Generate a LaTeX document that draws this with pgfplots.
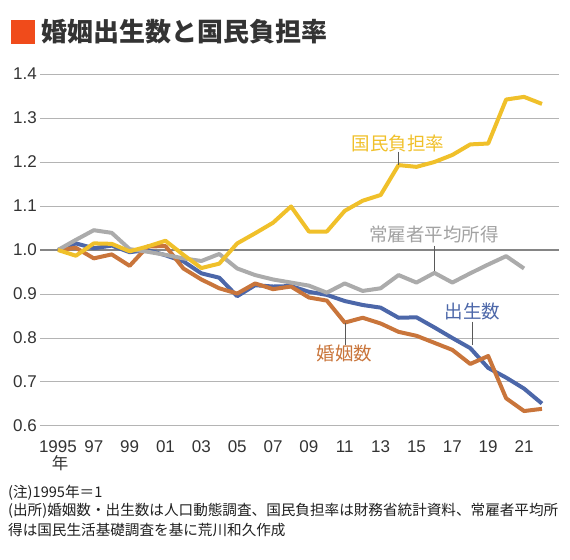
\documentclass[border=0pt]{standalone}
\usepackage{fontspec}
\setmainfont{Liberation Sans}
\newfontfamily\cjk{Noto Sans CJK JP}
\usepackage{pgfplots}
\pgfplotsset{compat=1.18}

\definecolor{cYel}{HTML}{F0C02A}
\definecolor{cGray}{HTML}{ABABAB}
\definecolor{cBlue}{HTML}{4C67A9}
\definecolor{cOrg}{HTML}{C9753B}
\definecolor{cTitle}{HTML}{F04B1B}
\definecolor{cText}{HTML}{333333}
\definecolor{cGrid}{HTML}{B4B4B4}
\definecolor{cGridDk}{HTML}{858585}

% 1995 = 1
\pgfplotstableread{
year  birth  marr   burden
1995  1.000  1.000  1.000
1996  1.015  1.005  0.987
1997  1.004  0.981  1.015
1998  1.010  0.990  1.014
1999  0.995  0.964  0.997
2000  1.000  1.008  1.008
2001  0.988  1.009  1.021
2002  0.974  0.958  0.989
2003  0.947  0.933  0.959
2004  0.937  0.913  0.969
2005  0.895  0.901  1.015
2006  0.920  0.924  1.038
2007  0.917  0.911  1.062
2008  0.918  0.917  1.099
2009  0.905  0.892  1.042
2010  0.898  0.885  1.042
2011  0.884  0.835  1.089
2012  0.875  0.846  1.112
2013  0.869  0.833  1.125
2014  0.846  0.814  1.193
2015  0.847  0.805  1.189
2016  0.824  0.789  1.200
2017  0.800  0.773  1.216
2018  0.777  0.741  1.240
2019  0.732  0.759  1.242
2020  0.710  0.663  1.342
2021  0.685  0.634  1.348
2022  0.651  0.639  1.332
}\main

\pgfplotstableread{
year  income
1995  1.000
1996  1.023
1997  1.045
1998  1.039
1999  1.002
2000  0.996
2001  0.989
2002  0.981
2003  0.975
2004  0.991
2005  0.958
2006  0.943
2007  0.933
2008  0.926
2009  0.919
2010  0.903
2011  0.924
2012  0.907
2013  0.913
2014  0.943
2015  0.926
2016  0.948
2017  0.926
2018  0.947
2019  0.967
2020  0.986
2021  0.958
}\income

\begin{document}
\begin{tikzpicture}
\path[use as bounding box] (0,0) rectangle (570bp,560bp);

% title
\fill[cTitle] (11bp,516bp) rectangle (35bp,539.5bp);
\node[anchor=base west, inner sep=0, text=cText,
  font=\cjk\bfseries\fontsize{26bp}{26bp}\selectfont] at (41bp,518bp) {婚姻出生数と国民負担率};

\begin{axis}[
  at={(40bp,134bp)}, anchor=south west,
  scale only axis, width=519bp, height=352bp,
  xmin=1994, xmax=2022.95, ymin=0.6, ymax=1.4,
  axis line style={draw=none},
  major tick style={draw=none},
  major tick length=0pt,
  ytick={0.6,0.7,0.8,0.9,1.0,1.1,1.2,1.3,1.4},
  yticklabel style={/pgf/number format/fixed, /pgf/number format/precision=1,
    /pgf/number format/fixed zerofill, anchor=east, inner sep=0pt, xshift=-3bp},
  /pgf/number format/assume math mode=true,
  ymajorgrids,
  grid style={draw=cGrid, line width=1bp},
  extra y ticks={1},
  extra y tick labels={},
  extra y tick style={grid style={draw=cGridDk, line width=1.2bp}},
  xtick={1995,1997,...,2021},
  xticklabels={1995,97,99,01,03,05,07,09,11,13,15,17,19,21},
  xticklabel style={anchor=base, inner sep=0pt, yshift=-27bp},
  tick label style={text=cText, font=\fontsize{17bp}{17bp}\selectfont},
  every axis plot/.append style={line width=4bp, line join=round, no markers},
]
\addplot[cBlue] table[x=year, y=birth] {\main};
\addplot[cOrg] table[x=year, y=marr] {\main};
\addplot[cGray] table[x=year, y=income] {\income};
\addplot[cYel] table[x=year, y=burden] {\main};
\end{axis}

% year unit
\node[anchor=base, inner sep=0, text=cText, font=\cjk\fontsize{16.5bp}{16.5bp}\selectfont]
  at (60bp,90bp) {年};

% series labels and leaders
\begin{scope}[font=\cjk\fontsize{18.5bp}{18.5bp}\selectfont]
\node[anchor=base, inner sep=0, text=cYel] at (398bp,409.8bp) {国民負担率};
\node[anchor=base, inner sep=0, text=cGray!95!black] at (434bp,318.3bp) {常雇者平均所得};
\node[anchor=base, inner sep=0, text=cBlue] at (472.5bp,241.6bp) {出生数};
\node[anchor=base, inner sep=0, text=cOrg] at (344.3bp,199.3bp) {婚姻数};
\end{scope}
\begin{scope}[draw=black!65, line width=1bp]
\draw (398.3bp,408.3bp) -- (398.3bp,395bp);
\draw (434bp,314bp) -- (434bp,289.3bp);
\draw (472.3bp,238.3bp) -- (472.3bp,215bp);
\draw (345bp,237.3bp) -- (345bp,215bp);
\end{scope}

% notes
\begin{scope}[font=\cjk\fontsize{14.6bp}{14.6bp}\selectfont, text=black!88]
\node[anchor=base west, inner sep=0] at (8bp,62bp) {(注)1995年＝1};
\node[anchor=base west, inner sep=0] at (8bp,44bp) {(出所)婚姻数・出生数は人口動態調査、国民負担率は財務省統計資料、常雇者平均所};
\node[anchor=base west, inner sep=0] at (8bp,24.5bp) {得は国民生活基礎調査を基に荒川和久作成};
\end{scope}
\end{tikzpicture}
\end{document}
